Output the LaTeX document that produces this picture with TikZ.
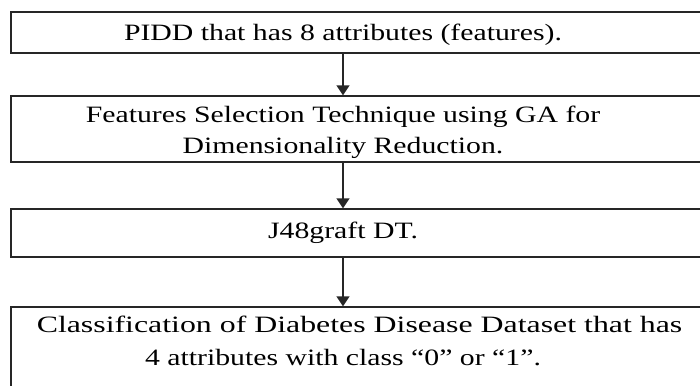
\documentclass[tikz,border=0pt]{standalone}
\usepackage{fontspec}
\usepackage{graphicx}
\setmainfont{Liberation Serif}
\usetikzlibrary{arrows.meta}

\begin{document}
\begin{tikzpicture}[x=0.03cm, y=-0.03cm]
	\def\xtext{343}
	\def\xbox{362.5}

	\tikzset{
		stage/.style={rectangle, draw=black!85, line width=1.2pt, minimum width=21.09cm, inner sep=0pt},
		caption/.style={font=\fontsize{20}{26}\selectfont, align=center, xscale=1.27, inner sep=0pt, anchor=base},
		flow/.style={-{Triangle[length=0.3cm, width=0.39cm]}, draw=black!85, line width=1.2pt}
	}

	\useasboundingbox (0,0) rectangle (700,385);
	\clip (0,0) rectangle (700,385);

	% stage boxes
	\node[stage, minimum height=1.23cm] (box1) at (\xbox,32.5) {};
	\node[stage, minimum height=1.98cm] (box2) at (\xbox,129) {};
	\node[stage, minimum height=1.44cm] (box3) at (\xbox,233) {};
	\node[stage, minimum height=3cm]    (box4) at (\xbox,357) {};

	% texts (base = last line)
	\node[caption] (pidd)    at (\xtext,40)  {PIDD that has 8 attributes (features).};
	\node[caption] (fsel)    at (\xtext,153) {Features Selection Technique using GA for\\Dimensionality Reduction.};
	\node[caption] (jgraft)  at (\xtext,238) {J48graft DT.};
	\node[caption] (classif) at (\xtext,365) {\hspace*{0.78cm}\scalebox{1.07}[1]{Classification of Diabetes Disease Dataset that has}\\[1.7pt]4 attributes with class ``0'' or ``1''.};

	% arrows
	\draw[flow] (box1.south -| pidd) -- (box2.north -| pidd);
	\draw[flow] (box2.south -| pidd) -- (box3.north -| pidd);
	\draw[flow] (box3.south -| pidd) -- (box4.north -| pidd);
\end{tikzpicture}
\end{document}
